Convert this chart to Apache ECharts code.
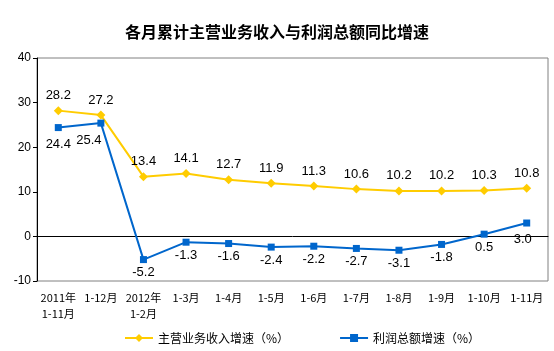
<!DOCTYPE html>
<html>
<head>
<meta charset="utf-8">
<script src="https://cdn.jsdelivr.net/npm/echarts@6/dist/echarts.min.js"></script>
<style>
    html, body { margin: 0; padding: 0; background: #fff; }
    #chart { width: 554px; height: 351px; }
</style>
</head>
<body>
<div id="chart"></div>
<script>
// Chart data
var categories = ['2011年\n1-11月', '1-12月', '2012年\n1-2月', '1-3月', '1-4月', '1-5月',
    '1-6月', '1-7月', '1-8月', '1-9月', '1-10月', '1-11月'];
var revenueGrowth = [28.2, 27.2, 13.4, 14.1, 12.7, 11.9, 11.3, 10.6, 10.2, 10.2, 10.3, 10.8];
var profitGrowth = [24.4, 25.4, -5.2, -1.3, -1.6, -2.4, -2.2, -2.7, -3.1, -1.8, 0.5, 3.0];
var seriesNames = ['主营业务收入增速（%）', '利润总额增速（%）'];

var chart = echarts.init(document.getElementById('chart'), null, { renderer: 'canvas' });

// Nudge a few profit labels clear of the lines
var labelNudge = { 0: [0, 4], 1: [-12, 4], 11: [-4, 3] };
var profitData = profitGrowth.map(function (v, i) {
    return labelNudge[i] ? { value: v, label: { offset: labelNudge[i] } } : v;
});

var options = {
    animation: false,
    textStyle: {
        fontFamily: '"Noto Sans CJK SC", sans-serif'
    },

    // Title
    title: {
        text: '各月累计主营业务收入与利润总额同比增速',
        left: 'center',
        top: 19,
        textStyle: {
            fontSize: 16,
            fontWeight: 'bold',
            color: '#000'
        }
    },

    // Legend
    legend: {
        left: 119,
        top: 327,
        itemGap: 50,
        itemWidth: 28,
        itemHeight: 10,
        textStyle: {
            fontSize: 12,
            color: '#000'
        },
        data: seriesNames
    },

    grid: {
        left: 37,
        right: 6,
        top: 58,
        bottom: 70,
        show: true,
        borderColor: '#808080',
        borderWidth: 1
    },

    xAxis: {
        type: 'category',
        data: categories,
        boundaryGap: true,
        axisLine: { lineStyle: { color: '#000', width: 1 } },
        axisTick: { inside: true, length: 5, lineStyle: { color: '#000' } },
        axisLabel: {
            color: '#000',
            fontSize: 11,
            lineHeight: 16,
            margin: 9,
            interval: 0
        }
    },

    yAxis: {
        type: 'value',
        min: -10,
        max: 40,
        interval: 10,
        splitLine: { show: false },
        axisLine: { show: true, lineStyle: { color: '#000', width: 1 } },
        axisTick: { show: true, length: 4, lineStyle: { color: '#000' } },
        axisLabel: {
            color: '#000',
            fontSize: 12,
            fontFamily: '"Liberation Sans", Arial, sans-serif',
            margin: 6
        }
    },

    series: [
        {
            name: seriesNames[0],
            type: 'line',
            data: revenueGrowth,
            symbol: 'diamond',
            symbolSize: 9,
            color: '#FFCC00',
            lineStyle: { width: 2, color: '#FFCC00' },
            itemStyle: { color: '#FFCC00' },
            label: {
                show: true,
                position: 'top',
                distance: 4,
                formatter: function (p) { return p.value.toFixed(1); },
                color: '#000',
                fontSize: 13,
                fontFamily: '"Liberation Sans", Arial, sans-serif'
            },
            z: 3
        },
        {
            name: seriesNames[1],
            type: 'line',
            data: profitData,
            symbol: 'rect',
            symbolSize: 7,
            color: '#0066CC',
            lineStyle: { width: 2, color: '#0066CC' },
            itemStyle: { color: '#0066CC' },
            label: {
                show: true,
                position: 'bottom',
                distance: 3,
                formatter: function (p) { return p.value.toFixed(1); },
                color: '#000',
                fontSize: 13,
                fontFamily: '"Liberation Sans", Arial, sans-serif'
            },
            z: 4
        }
    ]
};

chart.setOption(options);
</script>
</body>
</html>
